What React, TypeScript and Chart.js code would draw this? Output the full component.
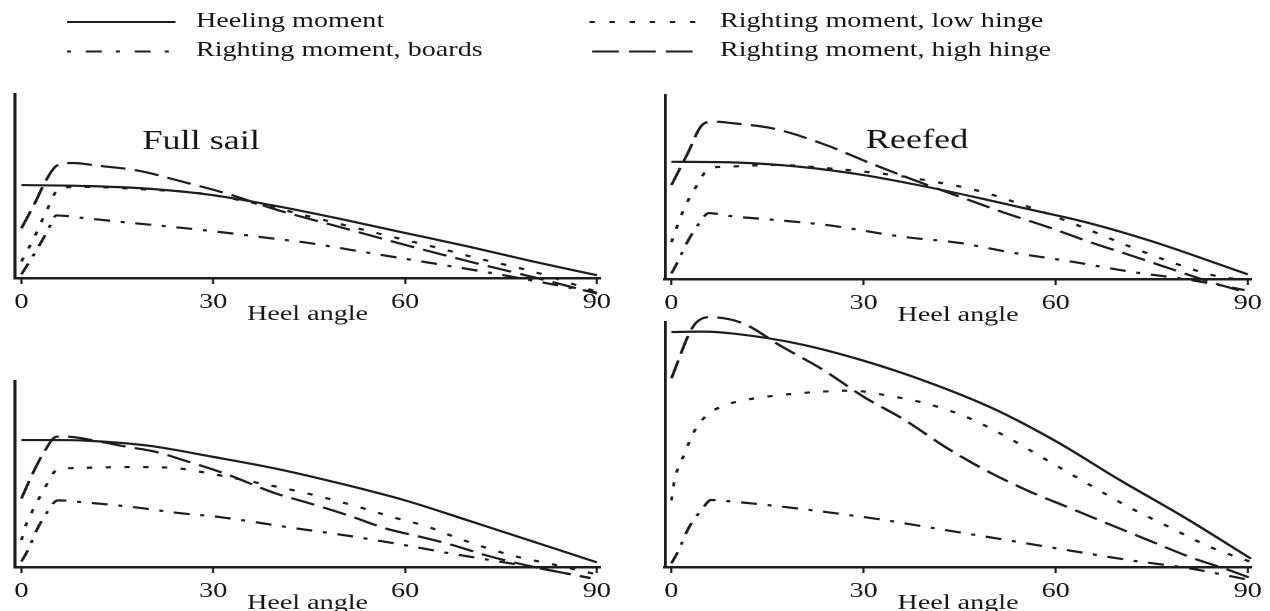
import React, { useEffect, useRef } from "react";
import { Chart, registerables } from "chart.js";

Chart.register(...registerables);

// ---------- data ----------
const heelTicks = [0, 30, 60, 90];
const seriesNames = [
  "Heeling moment",
  "Righting moment, low hinge",
  "Righting moment, boards",
  "Righting moment, high hinge",
];

type Pt = [number, number];

// Panel 1 – Full sail (top left)
const fullHeeling: Pt[] = [[0,50.5],[10,50],[20,48.5],[30,45],[40,39],[50,32],[60,24.5],[70,17],[80,9],[90,1.5]];
const fullLowHinge: Pt[] = [[0,9],[2,22],[4,37],[6,49],[10,49.5],[20,48],[28,46],[36,41],[45,33.5],[52,27.5],[59,21.5],[65,16.5],[71,11],[80,3.5],[90,-7.5]];
const fullBoards: Pt[] = [[0,2],[2,13],[4,25],[5.5,34],[10,32.5],[17,30],[23,28],[31,25],[38,22],[45,19],[52,15],[59,11],[73,3],[90,-8]];
const fullHighHinge: Pt[] = [[0,27],[2,40],[4,54],[5.5,61],[8,62.5],[12,61],[18,58.5],[26,51.6],[32,46],[40,37],[50,27.5],[60,18],[70,9],[80,0.5],[90,-8.5]];

// Panel 2 – Reefed (top right)
const reefHeeling: Pt[] = [[0,63.7],[10,63.3],[20,61],[30,56.5],[40,50],[50,42.5],[57,37],[65,30.6],[75,20.5],[90,2.5]];
const reefLowHinge: Pt[] = [[0,20],[1.7,36],[2.8,44],[4.2,52],[5.8,60],[8.4,61],[16,62],[25,60],[34.6,56.5],[40,53.5],[47.4,48.4],[55.7,39.3],[64,28.4],[71.6,17.6],[79,8],[84.6,2],[90,-1]];
const reefBoards: Pt[] = [[0,3],[1,9.4],[2.4,19.6],[4.5,31],[5.8,35.8],[9.7,34],[16.5,32],[24.3,29.3],[36,23],[45,19.6],[52.4,14.8],[62.6,9.4],[71.6,4],[81,-0.5],[89.5,-6]];
const reefHighHinge: Pt[] = [[0,51],[2.5,68],[4.8,83.7],[6.5,85.5],[10,84.5],[16,81.7],[24,73],[31,63],[40,51],[46,43.5],[52,36],[59,28],[65,20.5],[72,12.5],[78,5.5],[84,-1.5],[90,-7.5]];

// Panel 3 – bottom left
const p3Heeling: Pt[] = [[0,68.6],[5,68.6],[10,68.3],[20,65.5],[30,59.5],[40,53],[50,45],[60,36],[70,25],[80,13.8],[90,2.5]];
const p3LowHinge: Pt[] = [[0,14.6],[0.8,23.6],[1.8,30.8],[2.9,38],[4.2,46],[5.5,52.4],[8.6,53.5],[17,54],[24,53.5],[27,52],[34,47.5],[45,39.5],[52.7,32.5],[58,27],[63.6,21.7],[68.7,15],[77,6],[83,1.5],[90,-4]];
const p3Boards: Pt[] = [[0,3],[1,9],[2.4,20],[3.9,29],[5.7,36],[9.6,35],[17.4,32.4],[25,29],[31,27],[41.3,21.7],[52,16.4],[59.8,11.9],[66.8,7.5],[73.2,3.8],[79.5,0.2],[89,-6]];
const p3HighHinge: Pt[] = [[0,37],[1.8,50.8],[3.7,63],[5.5,70.4],[7,70.4],[12.3,67.7],[16.4,65],[20.9,62.3],[26,57],[31.7,50.6],[40,39.5],[44.5,35],[51,28],[57.3,20.5],[62.3,16.4],[66.8,12.5],[73.2,5.8],[79.5,0.5],[89,-6]];

// Panel 4 – bottom right
const p4Heeling: Pt[] = [[0,127],[5,127.2],[10,126],[20,120.5],[30,111.5],[40,100],[50,86],[60,68],[70,47],[80,27],[90.5,4.5]];
const p4LowHinge: Pt[] = [[0,36],[0.5,47],[2.1,61.6],[3.4,72.3],[5.3,81.3],[7.8,86.7],[11.6,90.3],[17.3,93],[23.7,94.8],[28.1,95.3],[33.2,93],[39.6,88.5],[45.9,81.3],[52.3,70.4],[58.6,57.8],[64.9,45.2],[71.3,32.6],[77.6,21.8],[84,11],[90.3,2.9]];
const p4Boards: Pt[] = [[0,2],[0.9,7.5],[2.8,21.8],[4.7,30.8],[6.2,36.2],[9.7,35.3],[17.3,32.6],[23.7,29.9],[33.2,25.4],[42.7,20],[52.3,14.6],[61.7,9.2],[71.3,3.8],[80.8,-0.7],[90.3,-7]];
const p4HighHinge: Pt[] = [[0,102],[3.4,130],[5.9,135],[11,131.9],[17.3,119],[23.7,106.5],[30,92],[36.4,79.5],[42.7,65],[49,52.4],[55.4,41.6],[61.7,32.6],[68,23.6],[74.4,14.6],[80.8,5.6],[87,-1.6],[90.5,-6]];

// ---------- styling ----------
const STRETCH = 1270 / 948;
const STAGE_W = 948;
const STAGE_H = 640;
const Y_AXIS_W = 8;
const INK = "#1e1e1e";
const TEXT = "#161616";
const FONT = '"Liberation Serif", "Times New Roman", serif';

const dashStyles: number[][] = [[], [4, 10], [12, 8, 3, 8], [18.5, 7]];

const panelTitlePlugin = {
  id: "panelTitle",
  afterDatasetsDraw(chart: any, _args: any, opts: any) {
    if (!opts || !opts.text) return;
    const { ctx, chartArea } = chart;
    ctx.save();
    ctx.font = `${opts.size}px ${FONT}`;
    ctx.fillStyle = TEXT;
    ctx.textAlign = "center";
    ctx.textBaseline = "middle";
    ctx.fillText(
      opts.text,
      chartArea.left + opts.xFrac * (chartArea.right - chartArea.left),
      chartArea.top + opts.yFrac * (chartArea.bottom - chartArea.top)
    );
    ctx.restore();
  },
};

type PanelDef = {
  series: Pt[][];
  yMax: number;
  title?: string;
  titleX?: number;
  titleY?: number;
  area: { left: number; right: number; top: number; bottom: number };
};

const panels: PanelDef[] = [
  { series: [fullHeeling, fullLowHinge, fullBoards, fullHighHinge], yMax: 100, title: "Full sail", titleX: 0.318, titleY: 0.26,
    area: { left: 11.2, right: 447.9, top: 94, bottom: 278 } },
  { series: [reefHeeling, reefLowHinge, reefBoards, reefHighHinge], yMax: 100, title: "Reefed", titleX: 0.43, titleY: 0.25,
    area: { left: 496.4, right: 933.8, top: 95, bottom: 279 } },
  { series: [p3Heeling, p3LowHinge, p3Boards, p3HighHinge], yMax: 100.5,
    area: { left: 11.2, right: 447.9, top: 381, bottom: 567 } },
  { series: [p4Heeling, p4LowHinge, p4Boards, p4HighHinge], yMax: 132.4,
    area: { left: 496.4, right: 933.8, top: 322, bottom: 567 } },
];

const X_AXIS_H = 49;

function Panel({ def }: { def: PanelDef }) {
  const ref = useRef<HTMLCanvasElement | null>(null);
  useEffect(() => {
    if (!ref.current) return;
    const a = def.area;
    const chart = new Chart(ref.current, {
      type: "line",
      data: {
        datasets: def.series.map((s, i) => ({
          label: seriesNames[i],
          data: s.map(([x, y]) => ({ x, y })),
          borderColor: INK,
          borderWidth: 2.2,
          borderDash: dashStyles[i],
          pointRadius: 0,
          fill: false,
          clip: false as any,
          cubicInterpolationMode: "monotone" as const,
        })),
      },
      options: {
        animation: false,
        responsive: true,
        maintainAspectRatio: false,
        devicePixelRatio: 2,
        layout: {
          padding: {
            left: a.left - Y_AXIS_W,
            right: STAGE_W - a.right,
            top: a.top,
            bottom: STAGE_H - a.bottom - X_AXIS_H,
          },
        },
        events: [],
        plugins: {
          legend: { display: false },
          tooltip: { enabled: false },
          panelTitle: def.title
            ? { text: def.title, size: 27, xFrac: def.titleX, yFrac: def.titleY }
            : { text: "" },
        } as any,
        scales: {
          x: {
            type: "linear",
            min: -1,
            max: 90.5,
            afterBuildTicks: (s: any) => {
              s.ticks = heelTicks.map((v) => ({ value: v }));
            },
            afterFit: (s: any) => {
              s.height = X_AXIS_H;
              s.paddingLeft = 0;
              s.paddingRight = 0;
              s.paddingTop = 0;
              s.paddingBottom = 0;
            },
            ticks: {
              font: { family: FONT, size: 21 },
              color: TEXT,
              padding: 6,
              maxRotation: 0,
              autoSkip: false,
            },
            grid: {
              display: true,
              drawOnChartArea: false,
              drawTicks: true,
              tickLength: 6,
              tickWidth: 1.6,
              color: INK,
            },
            border: { display: true, width: 2.5, color: INK },
            title: {
              display: true,
              text: "Heel angle",
              font: { family: FONT, size: 21 },
              color: TEXT,
              padding: { top: 0, bottom: 0 },
            },
          },
          y: {
            type: "linear",
            min: 0,
            max: def.yMax,
            afterFit: (s: any) => {
              s.width = Y_AXIS_W;
            },
            ticks: { display: false },
            grid: { display: false },
            border: { display: true, width: 2.3, color: INK },
          },
        },
      },
      plugins: [panelTitlePlugin as any],
    });
    return () => chart.destroy();
  }, [def]);
  return (
    <div style={{ position: "absolute", left: 0, top: 0, width: STAGE_W, height: STAGE_H }}>
      <canvas ref={ref} />
    </div>
  );
}

function Legend() {
  const items = [
    { i: 0, x1: 50, x2: 131, y: 22, tx: 146.3, ty: 27 },
    { i: 2, x1: 50, x2: 127, y: 51.5, tx: 146.3, ty: 56.5 },
    { i: 1, x1: 440, x2: 520, y: 22, tx: 537.4, ty: 27 },
    { i: 3, x1: 442, x2: 523, y: 51.5, tx: 537.4, ty: 56.5 },
  ];
  const legendDash = ["", "4 11", "3 11 12 10.5", "20 7.5"];
  return (
    <svg width={STAGE_W} height={70} style={{ position: "absolute", left: 0, top: 0 }}>
      {items.map((it) => (
        <g key={it.i}>
          <line
            x1={it.x1}
            x2={it.x2}
            y1={it.y}
            y2={it.y}
            stroke={INK}
            strokeWidth={2.2}
            strokeDasharray={legendDash[it.i] || undefined}
          />
          <text x={it.tx} y={it.ty} fontFamily={FONT} fontSize={21} fill={TEXT}>
            {seriesNames[it.i]}
          </text>
        </g>
      ))}
    </svg>
  );
}

export default function App() {
  return (
    <div
      style={{
        position: "fixed",
        left: 0,
        top: 0,
        width: 1270,
        height: 611,
        overflow: "hidden",
        background: "#fff",
      }}
    >
      <div
        style={{
          position: "absolute",
          left: 0,
          top: 0,
          width: STAGE_W,
          height: STAGE_H,
          transform: `scaleX(${STRETCH})`,
          transformOrigin: "0 0",
        }}
      >
        <Legend />
        {panels.map((p, k) => (
          <Panel key={k} def={p} />
        ))}
      </div>
    </div>
  );
}
